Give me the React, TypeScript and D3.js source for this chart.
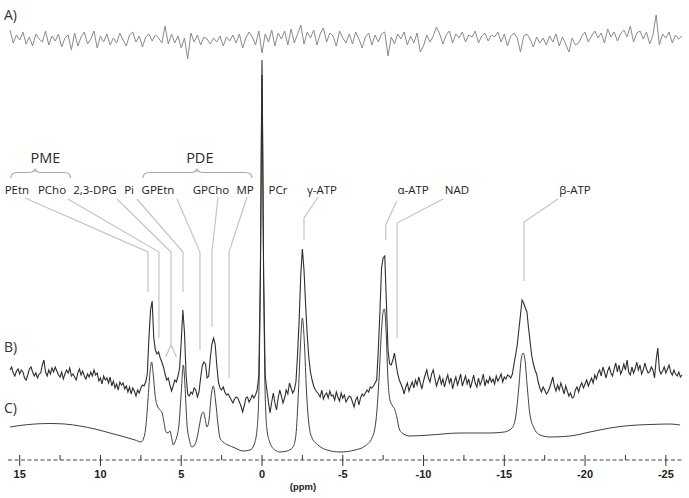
import React from "react";
import * as d3 from "d3";

// ---------- DATA ----------
const PPM_START = 15.6;
const PPM_END = -26.0;

// Trace A: residual (0.2 ppm step from 15.6 ppm)
const A_STEP = 0.2;
const traceA = [
  10, -3, 5, 0, 8, -4, 3, -6, 6, 1,
  -2, 9, -5, 4, -1, 6, -7, 2, 5, -10,
  7, -6, 3, 8, -4, 1, 9, -8, 4, -2,
  6, -5, 2, -3, 7, 0, -6, 5, 8, -2,
  4, -7, 3, 6, -1, 5, 2, -3, 14, -4,
  6, -3, 4, -8, 2, -19, 7, -2, 5, -5,
  3, 1, -4, 2, -2, 4, -6, 3, -1, 5,
  -3, 6, -8, 2, 8, 3, -5, 9, -13, 6,
  -2, 10, -6, 7, 1, 9, -5, 11, -3, 6,
  15, -4, 8, 2, 10, -5, 6, 12, -2, 7,
  4, -6, 9, 2, -3, 6, -4, 8, 1, -8,
  3, 7, -5, 5, -2, 6, 8, -16, 3, -4,
  6, 1, 8, -5, 4, -3, 7, -12, -6, 5,
  -2, 4, 13, 6, -4, 5, 9, -3, 6, 2,
  8, -2, 5, 3, 9, -3, 4, 7, -1, 5,
  3, 8, -2, 6, -6, 4, 7, 2, -12, 4,
  6, 1, -7, 3, -3, 2, -5, 4, -2, 6,
  -6, 3, -4, -12, 2, -5, -3, 4, 8, -2,
  4, 9, 2, 7, -3, 11, 3, 8, -1, 6,
  10, 3, 14, -2, 7, 9, 1, 8, -4, 5,
  25, -5, 6, 2, 8, -3, 5, 1, 4,
];

// Trace B: measured spectrum (0.1 ppm step from 15.6 ppm)
const B_STEP = 0.1;
const traceB = [
  30, 33, 27, 24, 29, 31, 26, 30, 28, 22,
  20, 25, 31, 33, 28, 24, 27, 22, 26, 27,
  35, 40, 28, 24, 30, 26, 32, 28, 33, 29,
  25, 23, 28, 21, 26, 30, 27, 32, 24, 26,
  23, 20, 27, 31, 25, 29, 24, 21, 26, 23,
  28, 24, 30, 25, 27, 19, 22, 16, 24, 20,
  22, 17, 23, 14, 19, 12, 16, 10, 18, 15,
  17, 11, 14, 8, 13, 6, 12, 9, 4, 10,
  7, 12, 15, 14, 18, 26, 62, 90, 99, 62,
  50, 46, 48, 42, 38, 33, 26, 20, 22, 15,
  9, 14, 20, 18, 24, 32, 58, 90, 68, 25,
  6, 4, 8, 6, 12, 10, 3, 8, 22, 34,
  38, 36, 22, 24, 42, 56, 62, 56, 35, 18,
  12, 10, 13, 8, 5, 6, 3, 0, -3, 1,
  3, 2, -2, -6, -12, -6, 2, 3, -2, 1,
  5, 2, 5, 10, 24, 120, 340, 120, 24, 10,
  -2, -13, -2, 7, -3, -10, 2, 10, 4, -3,
  2, 10, 6, 17, 12, 7, 10, 18, 45, 80,
  125, 151, 130, 95, 65, 42, 28, 20, 14, 10,
  8, 6, 3, 10, 1, 5, 7, 2, 9, 4,
  5, 0, 8, 3, -1, 7, 2, 5, -2, 1,
  4, 3, -2, -7, 0, 3, -5, 2, 6, 4,
  7, 10, 8, 13, 12, 14, 17, 20, 50, 88,
  132, 142, 144, 98, 50, 36, 35, 40, 47, 36,
  26, 20, 16, 12, 6, 13, 17, 9, 14, 18,
  12, 20, 15, 23, 17, 11, 19, 25, 30, 22,
  18, 26, 30, 22, 14, 19, 24, 16, 21, 13,
  20, 25, 17, 22, 11, 18, 23, 15, 20, 26,
  14, 19, 24, 16, 21, 12, 18, 25, 17, 13,
  22, 15, 19, 26, 14, 20, 17, 23, 18, 21,
  16, 24, 19, 22, 26, 18, 23, 21, 25, 24,
  22, 26, 36, 45, 55, 70, 85, 100, 97, 92,
  88, 72, 58, 44, 36, 30, 26, 18, 12, 8,
  13, 10, 6, 8, 12, 17, 23, 14, 9, 15,
  10, 17, 12, 6, 14, 9, 4, 7, 2, 3,
  10, 13, 8, 14, 17, 12, 16, 20, 14, 18,
  22, 17, 25, 21, 27, 30, 24, 33, 28, 22,
  29, 33, 27, 24, 31, 37, 28, 35, 26, 30,
  36, 30, 40, 28, 25, 33, 27, 31, 38, 30,
  35, 26, 30, 37, 31, 27, 28, 33, 30, 22,
  40, 52, 30, 26, 29, 33, 27, 31, 35, 28,
  25, 30, 26, 24, 28, 23, 25,
];

// Trace C: fitted spectrum (ppm, intensity)
const cPpm = [
  15.6, 15.0, 14.05, 13.12, 12.2, 11.27, 10.34, 9.41, 8.48, 7.86,
  7.49, 7.3, 7.18, 7.06, 6.93, 6.83, 6.73, 6.62, 6.5, 6.31,
  6.2, 6.07, 5.94, 5.82, 5.7, 5.57, 5.49, 5.39, 5.26, 5.14,
  5.01, 4.87, 4.77, 4.64, 4.49, 4.35, 4.21, 4.02, 3.87, 3.75,
  3.63, 3.53, 3.41, 3.28, 3.16, 3.01, 2.88, 2.72, 2.6, 2.41,
  2.1, 1.67, 1.18, 0.74, 0.5, 0.31, 0.19, 0.09, 0, -0.09,
  -0.19, -0.31, -0.5, -0.8, -1.11, -1.55, -1.92, -2.1, -2.26, -2.38,
  -2.5, -2.63, -2.75, -2.91, -3.1, -3.47, -4.02, -4.83, -5.76, -6.38,
  -6.81, -7.06, -7.24, -7.4, -7.52, -7.58, -7.68, -7.8, -7.92, -8.05,
  -8.23, -8.36, -8.48, -8.67, -9.16, -10.4, -12.26, -14.1, -15.0, -15.48,
  -15.72, -15.91, -16.04, -16.16, -16.28, -16.41, -16.59, -16.84, -17.21, -17.83,
  -19.07, -20.3, -21.54, -22.78, -24.02, -25.26, -25.88,
];
const cVal = [
  28, 29.5, 31, 31.5, 31, 29, 26, 22, 18, 15,
  13, 18, 30, 55, 83, 93, 80, 60, 50, 45,
  43, 33, 23, 22, 24, 15, 10, 13, 19, 30,
  60, 90, 70, 30, 15, 8, 9, 17, 30, 40,
  43, 37, 28, 35, 57, 69, 55, 30, 17, 13,
  10, 7, 4, 5, 10, 25, 65, 205, 380, 205,
  65, 25, 12, 5, 3, 4, 8, 20, 65, 110,
  137, 110, 65, 30, 17, 10, 5, 3, 5, 9,
  17, 35, 75, 125, 145, 146, 125, 75, 55, 50,
  45, 37, 27, 22, 19, 20, 22, 22, 23, 27,
  40, 70, 95, 102, 95, 70, 40, 27, 20, 18,
  19, 23, 27, 29.5, 30.5, 31, 30,
];

const majorTicks = [15, 10, 5, 0, -5, -10, -15, -20, -25];
const minorTicks = [12.5, 7.5, 2.5, -2.5, -7.5, -12.5, -17.5, -22.5];

const peakLabels = ["PEtn", "PCho", "2,3-DPG", "Pi", "GPEtn", "GPCho", "MP", "PCr", "γ-ATP", "α-ATP", "NAD", "β-ATP"];
const peakLabelPpm = [15.17, 13.0, 10.34, 8.23, 6.44, 3.16, 1.05, -0.99, -3.71, -9.35, -12.07, -19.38];

const groupLabels = ["PME", "PDE"];

// ---------- LAYOUT (annotation geometry) ----------
const leaderLayout = [
  { from: 14.67, fy: 198, at: 7.06, ey: 252, to: 292 },
  { from: 12.01, fy: 199, at: 6.38, ey: 252, to: 338 },
  { from: 8.98, fy: 199, at: 5.63, ey: 252, to: 345, fork: 0.33, forkY: 357 },
  { from: 7.74, fy: 199, at: 4.89, ey: 252, to: 292 },
  { from: 5.26, fy: 199, at: 3.84, ey: 252, to: 350 },
  { from: 2.72, fy: 197, at: 3.1, ey: 252, to: 327 },
  { from: 0.93, fy: 197, at: 2.04, ey: 252, to: 378 },
  null,
  { from: -3.47, fy: 197, at: -2.6, ey: 218, to: 240 },
  { from: -8.34, fy: 201, at: -7.66, ey: 225, to: 240 },
  { from: -11.21, fy: 199, at: -8.36, ey: 223, to: 338 },
  { from: -18.32, fy: 199, at: -16.22, ey: 222, to: 281 },
];
const braceLayout = [
  { x1: 15.55, x2: 11.85, tip: 14.05, labelPpm: 13.4 },
  { x1: 7.37, x2: 0.62, tip: 4.03, labelPpm: 3.85 },
];

function bracePath(xa: number, xb: number, xm: number, yTip: number, yMid: number, yEnd: number) {
  const r = 7;
  return `M${xa},${yEnd} Q${xa},${yMid} ${xa + r},${yMid} L${xm - r},${yMid} Q${xm},${yMid} ${xm},${yTip} Q${xm},${yMid} ${xm + r},${yMid} L${xb - r},${yMid} Q${xb},${yMid} ${xb},${yEnd}`;
}

export default function App() {
  const x = d3.scaleLinear().domain([PPM_START, PPM_END]).range([10, 682]);
  const yA = d3.scaleLinear().domain([0, 20]).range([40, 20]);
  const yB = d3.scaleLinear().domain([0, 340]).range([400, 60]);
  const yC = d3.scaleLinear().domain([0, 380]).range([455, 75]);

  const ptsA: [number, number][] = traceA.map((v, i) => [PPM_START - i * A_STEP, v]);
  const ptsB: [number, number][] = traceB.map((v, i) => [PPM_START - i * B_STEP, v]);
  const ptsC: [number, number][] = cPpm.map((p, i) => [p, cVal[i]]);

  const lineA = d3.line<[number, number]>().x((d) => x(d[0])).y((d) => yA(d[1]));
  const lineB = d3.line<[number, number]>().x((d) => x(d[0])).y((d) => yB(d[1]));
  const lineC = d3.line<[number, number]>().x((d) => x(d[0])).y((d) => yC(d[1])).curve(d3.curveMonotoneX);

  const axisY = 460;
  const labelFont = "'Open Sans', 'Liberation Sans', sans-serif";
  const axisFont = "'Liberation Sans', Arial, sans-serif";

  return (
    <svg width={689} height={498} style={{ position: "fixed", left: 0, top: 0, background: "#fff" }}>
      <rect x={0} y={0} width={689} height={498} fill="#fff" />
      {/* panel letters */}
      <text x={4} y={20} fontSize={14} fontFamily={labelFont} fill="#333">A)</text>
      <text x={4} y={352} fontSize={14} fontFamily={labelFont} fill="#333">B)</text>
      <text x={4} y={413} fontSize={14} fontFamily={labelFont} fill="#333">C)</text>

      {/* leader lines */}
      <g stroke="#c4c4c4" strokeWidth={1.2} fill="none">
        {leaderLayout.map((l, i) => {
          if (!l) return null;
          const xs = x(l.from), xe = x(l.at);
          let d = `M${xs},${l.fy} L${xe},${l.ey} L${xe},${l.to}`;
          if (l.fork) {
            d += ` M${x(l.at + l.fork)},${l.forkY} L${xe},${l.to} L${x(l.at - l.fork)},${l.forkY}`;
          }
          return <path key={i} d={d} />;
        })}
      </g>

      {/* braces */}
      <g stroke="#a8a8a8" strokeWidth={1.2} fill="none">
        {braceLayout.map((b, i) => (
          <path key={i} d={bracePath(x(b.x1), x(b.x2), x(b.tip), 168.5, 172.5, 178)} />
        ))}
      </g>
      {groupLabels.map((g, i) => (
        <text key={g} x={x(braceLayout[i].labelPpm)} y={163} fontSize={14.5} fontFamily={labelFont} fill="#2a2a2a" textAnchor="middle">{g}</text>
      ))}

      {/* peak labels */}
      {peakLabels.map((t, i) => (
        <text key={t} x={x(peakLabelPpm[i])} y={194} fontSize={11.5} fontFamily={labelFont} fill="#222" textAnchor="middle">{t}</text>
      ))}

      {/* traces */}
      <path d={lineA(ptsA) || ""} fill="none" stroke="#8a8a8a" strokeWidth={1} />
      <path d={lineC(ptsC) || ""} fill="none" stroke="#404040" strokeWidth={1} />
      <path d={lineB(ptsB) || ""} fill="none" stroke="#2e2e2e" strokeWidth={1.1} />

      {/* axis */}
      <line x1={8} x2={683} y1={axisY} y2={axisY} stroke="#444" strokeWidth={1} strokeDasharray="4,2.5" />
      {majorTicks.map((t) => (
        <g key={t}>
          <line x1={x(t)} x2={x(t)} y1={axisY - 5} y2={axisY + 6} stroke="#333" strokeWidth={1} />
          <text x={x(t)} y={478} fontSize={11} fontWeight="bold" fontFamily={axisFont} fill="#222" textAnchor="middle">{String(t)}</text>
        </g>
      ))}
      {minorTicks.map((t) => (
        <line key={t} x1={x(t)} x2={x(t)} y1={axisY - 5} y2={axisY} stroke="#333" strokeWidth={1} />
      ))}
      <text x={303} y={490} fontSize={9.5} fontWeight="bold" fontFamily={axisFont} fill="#222" textAnchor="middle">(ppm)</text>
    </svg>
  );
}
